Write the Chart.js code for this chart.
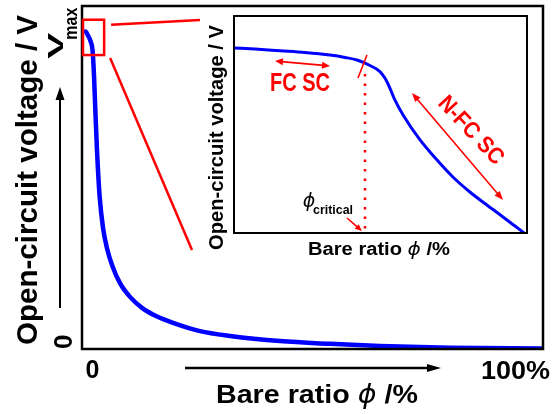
<!DOCTYPE html>
<html><head><meta charset="utf-8">
<script src="https://cdn.jsdelivr.net/npm/chart.js@4/dist/chart.umd.min.js"></script>
<style>
html,body{margin:0;padding:0;background:#fff;}
#wrap{position:relative;width:553px;height:414px;}
#wrap canvas{position:absolute;left:0;top:0;}
#inset{pointer-events:none;}
</style></head><body>
<div id="wrap"><canvas id="main" width="553" height="414"></canvas><canvas id="inset" width="553" height="414"></canvas></div>
<script>
// ---- data ----
// main plot: bare ratio (%) vs open-circuit voltage (fraction of full scale)
const mainX = [0.43, 0.76, 1.30, 1.84, 2.28, 2.60, 2.89, 3.25, 3.80, 4.56, 5.42, 6.51, 8.24, 10.41, 13.02, 16.05, 19.74, 25.6, 32.1, 42.95, 53.8, 64.6, 79.8, 100];
const mainY = [0.920, 0.926, 0.914, 0.898, 0.872, 0.799, 0.697, 0.580, 0.449, 0.353, 0.294, 0.245, 0.192, 0.152, 0.120, 0.096, 0.076, 0.052, 0.038, 0.023, 0.015, 0.009, 0.004, 0.0015];
// inset: zoom on the top-left part of the curve
const insetX = [0, 7.17, 15.7, 24.2, 32.8, 37.9, 42.0, 46.4, 49.8, 51.5, 53.2, 54.9, 57.7, 63.5, 69.3, 74.7, 80.5, 86.3, 91.8, 95.9, 99.0];
const insetY = [0.853, 0.848, 0.840, 0.832, 0.820, 0.809, 0.797, 0.772, 0.744, 0.714, 0.668, 0.613, 0.544, 0.429, 0.336, 0.258, 0.189, 0.129, 0.074, 0.032, 0.0];
const phiCritical = 44.7;
const vMax = 0.925;
const xTickLabels = ['0', '100%'];
const yTickLabels = ['0', 'V', 'max'];
const mainXTitle = ['Bare ratio ', 'ϕ', ' /%'];
const mainYTitle = 'Open-circuit voltage / V';
const regionLabels = ['FC SC', 'N-FC SC'];
const criticalLabel = ['ϕ', 'critical'];

// ---- helpers ----
const F = "'Liberation Sans', Arial, sans-serif";
const FG = "'DejaVu Sans', sans-serif";
const RED = '#ff0000';
const BLUE = '#0000ff';

function drawText(ctx, runs, x, y, o = {}) {
  ctx.save();
  ctx.translate(x, y);
  if (o.rot) ctx.rotate(o.rot);
  ctx.fillStyle = o.color || '#000';
  ctx.textBaseline = 'alphabetic';
  ctx.textAlign = 'left';
  const ws = runs.map(r => { ctx.font = r.font; return ctx.measureText(r.text).width; });
  const total = ws.reduce((a, b) => a + b, 0);
  const sx = o.w ? o.w / total : (o.sx || 1);
  ctx.scale(sx, 1);
  let cx = o.align === 'left' ? 0 : o.align === 'right' ? -total : -total / 2;
  runs.forEach((r, i) => { ctx.font = r.font; ctx.fillText(r.text, cx, r.dy || 0); cx += ws[i]; });
  ctx.restore();
}

function arrow(ctx, x1, y1, x2, y2, o = {}) {
  const len = o.len || 10, half = o.half || 4, lw = o.lw || 1.5, color = o.color || '#000';
  ctx.save();
  ctx.strokeStyle = color; ctx.fillStyle = color; ctx.lineWidth = lw;
  const a = Math.atan2(y2 - y1, x2 - x1), c = Math.cos(a), s = Math.sin(a);
  const head = (hx, hy, dc, ds) => {
    ctx.beginPath();
    ctx.moveTo(hx, hy);
    ctx.lineTo(hx - len * dc + half * ds, hy - len * ds - half * dc);
    ctx.lineTo(hx - len * dc - half * ds, hy - len * ds + half * dc);
    ctx.closePath(); ctx.fill();
  };
  const sx = o.both ? x1 + len * 0.8 * c : x1, sy = o.both ? y1 + len * 0.8 * s : y1;
  ctx.beginPath(); ctx.moveTo(sx, sy); ctx.lineTo(x2 - len * 0.8 * c, y2 - len * 0.8 * s); ctx.stroke();
  head(x2, y2, c, s);
  if (o.both) head(x1, y1, -c, -s);
  ctx.restore();
}

const zoomBox = { x0: 0, x1: 4.8, y0: 0.857, y1: 0.96 };

const mainDecor = {
  id: 'mainDecor',
  afterDatasetsDraw(chart) {
    const { ctx, chartArea: a, scales: { x, y } } = chart;
    ctx.save();
    ctx.strokeStyle = '#000'; ctx.lineWidth = 2.5;
    ctx.strokeRect(a.left, a.top, a.right - a.left, a.bottom - a.top);
    // zoom box
    ctx.strokeStyle = RED; ctx.lineWidth = 2.5;
    const bx0 = x.getPixelForValue(zoomBox.x0) + 1, bx1 = x.getPixelForValue(zoomBox.x1);
    const by0 = y.getPixelForValue(zoomBox.y0), by1 = y.getPixelForValue(zoomBox.y1);
    ctx.strokeRect(bx0, by1, bx1 - bx0, by0 - by1);
    // connectors to inset
    ctx.beginPath(); ctx.moveTo(bx1 + 7, by1 + 5); ctx.lineTo(200, 20); ctx.stroke();
    ctx.beginPath(); ctx.moveTo(bx1 + 6, by0 + 3); ctx.lineTo(192, 250); ctx.stroke();
    ctx.restore();
    // axis arrows
    arrow(ctx, 60, 308, 60, 87, { len: 13, half: 4.5, lw: 2 });
    arrow(ctx, 185, 368, 441, 368, { len: 14, half: 4, lw: 2.5 });
    // y title
    drawText(ctx, [{ text: mainYTitle, font: `bold 29px ${F}` }], 37, 345, { rot: -Math.PI / 2, align: 'left', w: 330 });
    // y tick labels
    const y0 = y.getPixelForValue(0), yv = y.getPixelForValue(vMax);
    drawText(ctx, [{ text: yTickLabels[0], font: `bold 26px ${F}` }], 72, y0, { rot: -Math.PI / 2, align: 'left' });
    drawText(ctx, [{ text: yTickLabels[1], font: `bold 22px ${F}` }], 63, yv + 27, { rot: -Math.PI / 2, align: 'left', w: 26 });
    drawText(ctx, [{ text: yTickLabels[2], font: `bold 18px ${F}` }], 77, yv + 8, { rot: -Math.PI / 2, align: 'left', w: 32 });
    // x tick labels
    drawText(ctx, [{ text: xTickLabels[0], font: `bold 25px ${F}` }], x.getPixelForValue(0) + 10.5, 378, { align: 'center' });
    drawText(ctx, [{ text: xTickLabels[1], font: `bold 26px ${F}` }], x.getPixelForValue(100) + 7, 379, { align: 'right', w: 69 });
    // x title
    drawText(ctx, [
      { text: mainXTitle[0], font: `bold 26px ${F}` },
      { text: mainXTitle[1], font: `italic 26px ${FG}` },
      { text: mainXTitle[2], font: `bold 26px ${F}` }
    ], 317, 403, { align: 'center', w: 202 });
  }
};

const insetDecor = {
  id: 'insetDecor',
  afterDatasetsDraw(chart) {
    const { ctx, chartArea: a, scales: { x, y } } = chart;
    ctx.save();
    ctx.strokeStyle = '#000'; ctx.lineWidth = 2;
    ctx.strokeRect(a.left, a.top, a.right - a.left, a.bottom - a.top);
    // critical dotted line
    const px = x.getPixelForValue(phiCritical);
    ctx.strokeStyle = RED; ctx.lineWidth = 2.5; ctx.setLineDash([2.5, 7]);
    ctx.beginPath(); ctx.moveTo(px, 74); ctx.lineTo(px, a.bottom); ctx.stroke();
    ctx.setLineDash([]);
    // tick crossing the curve
    ctx.lineWidth = 1.6;
    ctx.beginPath(); ctx.moveTo(px - 7, 78); ctx.lineTo(px + 2, 55); ctx.stroke();
    ctx.restore();
    // region arrows
    arrow(ctx, 275, 61, 330, 66, { both: true, len: 8, half: 3.5, lw: 1.6, color: RED });
    arrow(ctx, 412, 93, 503, 200, { both: true, len: 9, half: 3.5, lw: 1.6, color: RED });
    arrow(ctx, 347, 218, 362, 231, { len: 7, half: 3, lw: 1.6, color: RED });
    // region labels
    drawText(ctx, [{ text: regionLabels[0], font: `bold 25px ${F}` }], 300, 91, { align: 'center', w: 60, color: RED });
    drawText(ctx, [{ text: regionLabels[1], font: `bold 23px ${F}` }], 466, 135, { align: 'center', w: 85, color: RED, rot: 47 * Math.PI / 180 });
    // critical label
    drawText(ctx, [{ text: criticalLabel[0], font: `italic 19px ${FG}` }], 309, 207, { align: 'center' });
    drawText(ctx, [{ text: criticalLabel[1], font: `bold 13px ${F}` }], 313, 214, { align: 'left', w: 40 });
    // inset titles
    drawText(ctx, [{ text: mainYTitle, font: `bold 20px ${F}` }], 223, 250, { rot: -Math.PI / 2, align: 'left', w: 225 });
    drawText(ctx, [
      { text: mainXTitle[0], font: `bold 18px ${F}` },
      { text: mainXTitle[1], font: `italic 18px ${FG}` },
      { text: mainXTitle[2], font: `bold 18px ${F}` }
    ], 379, 255, { align: 'center', w: 142 });
  }
};

const common = (pad) => ({
  responsive: false, animation: false, devicePixelRatio: 1, events: [],
  layout: { padding: pad },
  plugins: { legend: { display: false }, tooltip: { enabled: false } },
  scales: {
    x: { type: 'linear', min: 0, max: 100, display: false },
    y: { type: 'linear', min: 0, max: 1, display: false }
  }
});

new Chart(document.getElementById('main'), {
  type: 'line',
  data: { datasets: [{ data: mainX.map((v, i) => ({ x: v, y: mainY[i] })), borderColor: BLUE, borderWidth: 4.5, pointRadius: 0, cubicInterpolationMode: 'monotone', fill: false }] },
  options: common({ left: 82, top: 6, right: 10, bottom: 65 }),
  plugins: [mainDecor]
});

new Chart(document.getElementById('inset'), {
  type: 'line',
  data: { datasets: [{ data: insetX.map((v, i) => ({ x: v, y: insetY[i] })), borderColor: BLUE, borderWidth: 3, pointRadius: 0, cubicInterpolationMode: 'monotone', fill: false }] },
  options: common({ left: 234, top: 16, right: 26, bottom: 181 }),
  plugins: [insetDecor]
});
</script>
</body></html>
